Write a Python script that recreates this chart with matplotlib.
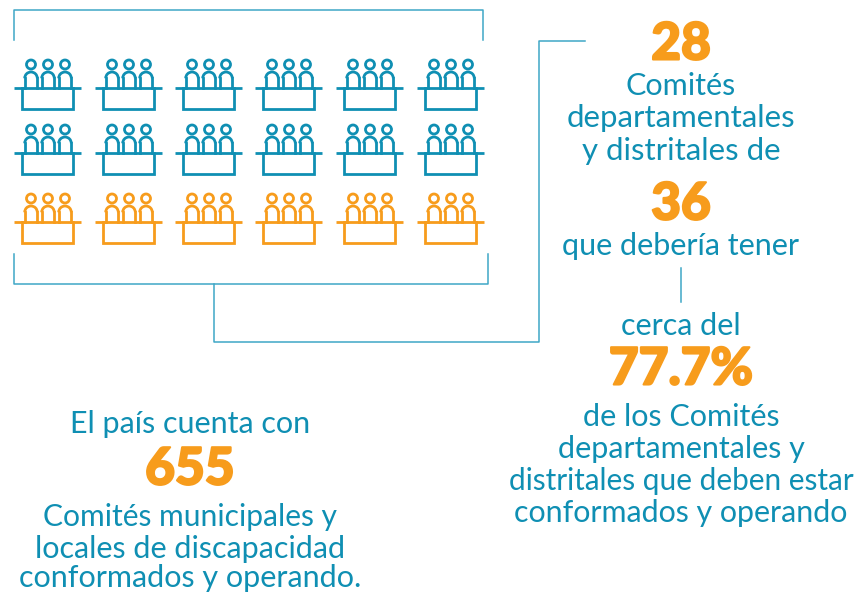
import matplotlib
matplotlib.use('Agg')
import matplotlib.pyplot as plt
import matplotlib.patheffects as pe
from matplotlib.patches import Arc, Circle

plt.rcParams['font.family'] = ['Lato', 'DejaVu Sans']

# Committee icons per row
icons_per_row = [6, 6, 6]
row_groups = ['conformed', 'conformed', 'missing']

# Texts
blue_lines = [
    'Comités',
    'departamentales',
    'y distritales de',
    'que debería tener',
    'cerca del',
    'de los Comités',
    'departamentales y',
    'distritales que deben estar',
    'conformados y operando',
    'El país cuenta con',
    'Comités municipales y',
    'locales de discapacidad',
    'conformados y operando.',
]
big_numbers = ['28', '36', '77.7%', '655']

BLUE = '#0f8fb3'
LINE = '#3fa7c6'
ORANGE = '#f79c1c'
group_colors = {'conformed': BLUE, 'missing': ORANGE}

fig = plt.figure(figsize=(8.56, 5.92), dpi=100)
ax = fig.add_axes([0, 0, 1, 1])
ax.set_xlim(0, 856)
ax.set_ylim(592, 0)
ax.axis('off')


def draw_icon(x, y, color):
    # x, y is the left end of the table top
    lw = 2
    ax.plot([x, x + 67], [y, y], color=color, lw=lw, solid_capstyle='butt')
    ax.plot([x + 8, x + 8, x + 59, x + 59], [y, y + 21, y + 21, y], color=color, lw=lw, solid_joinstyle='miter')
    for cx in [x + 17, x + 34, x + 51]:
        ax.add_patch(Circle((cx, y - 23.5), 4.5, fill=False, ec=color, lw=lw))
        ax.plot([cx - 6.3, cx - 6.3], [y, y - 9.7], color=color, lw=lw)
        ax.plot([cx + 6.3, cx + 6.3], [y, y - 9.7], color=color, lw=lw)
        ax.add_patch(Arc((cx, y - 9.7), 12.6, 12.6, theta1=180, theta2=360, ec=color, lw=lw))


col_x = [14, 95, 175, 255, 336, 417]
row_y = [88, 153, 222]
for group, n, y in zip(row_groups, icons_per_row, row_y):
    for x in col_x[:n]:
        draw_icon(x, y, group_colors[group])

# Brackets and connectors
ax.plot([14, 14, 483, 483], [40, 10, 10, 40], color=LINE, lw=1.1)
ax.plot([14, 14, 488, 488], [254, 284, 284, 254], color=LINE, lw=1.1)
ax.plot([214, 214, 539, 539, 585], [284, 342, 342, 41, 41], color=LINE, lw=1.1)
ax.plot([681, 681], [268, 302], color=LINE, lw=1.1)

# Placement of the texts, same order as the lists above
line_pos = [(681, 86, 22), (681, 118, 22.4), (681, 151, 22.4), (681, 246, 22),
            (681, 326, 22), (681, 417, 22), (681, 449, 22), (681, 481, 21.4),
            (681, 513, 21.9), (190, 424, 22), (190, 517, 21.6), (190, 549, 22),
            (190, 578, 22)]
number_pos = [(681, 45), (681, 205), (681, 370), (190, 470)]

for text, (x, y, size) in zip(blue_lines, line_pos):
    ax.text(x, y, text, color=BLUE, fontsize=size, ha='center', va='center')
for text, (x, y) in zip(big_numbers, number_pos):
    t = ax.text(x, y, text, color=ORANGE, fontsize=37, fontweight='black', ha='center', va='center')
    t.set_path_effects([pe.withStroke(linewidth=1.5, foreground=ORANGE)])

fig.savefig('out.png', dpi=100)
